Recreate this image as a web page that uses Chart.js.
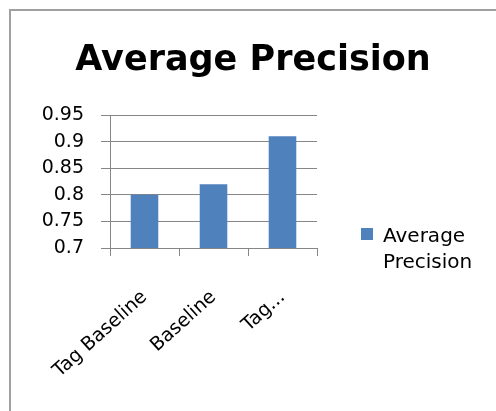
<!DOCTYPE html>
<html>
<head>
<meta charset="utf-8"/>
<title>Average Precision</title>
<script src="https://cdn.jsdelivr.net/npm/chart.js@4.4.0/dist/chart.umd.min.js"></script>
<style>
    body { margin: 0; background: #fff; overflow: hidden; }
    #frame { position: absolute; left: 9px; top: 9px; width: 520px; height: 440px; border: 2px solid #a0a0a0; }
    #wrap { position: absolute; left: 0; top: 0; width: 496px; height: 411px; }
</style>
</head>
<body>
<div id="frame"></div>
<div id="wrap"><canvas id="chart"></canvas></div>

<script>
var categories = ['Tag Baseline', 'Baseline', 'Tag...'];
var seriesName = 'Average Precision';
var values = [0.80, 0.82, 0.91];
var yTicks = [0.7, 0.75, 0.8, 0.85, 0.9, 0.95];

var barColor = '#4f81bd';
var lineColor = '#868686';

// legend on the right, two lines like the original
var sideLegend = {
    id: 'sideLegend',
    afterDraw: function(chart) {
        var ctx = chart.ctx;
        var ds = chart.data.datasets[0];
        var words = ds.label.split(' ');
        ctx.save();
        ctx.fillStyle = ds.backgroundColor;
        ctx.fillRect(361, 228, 12, 12);
        ctx.fillStyle = '#000';
        ctx.font = '20px "DejaVu Sans"';
        ctx.textBaseline = 'alphabetic';
        ctx.fillText(words[0], 383, 242);
        ctx.fillText(words[1], 383, 268);
        ctx.restore();
    }
};

var ctx = document.getElementById('chart');
var myChart = new Chart(ctx, {
    type: 'bar',
    data: {
        labels: categories,
        datasets: [{
            label: seriesName,
            data: values,
            backgroundColor: barColor,
            borderWidth: 0,
            categoryPercentage: 1,
            barPercentage: 0.4
        }]
    },
    options: {
        responsive: true,
        maintainAspectRatio: false,
        animation: false,
        layout: {
            padding: { left: 10, right: 0, top: 10, bottom: 0 }
        },
        scales: {
            x: {
                grid: { color: lineColor, drawOnChartArea: false, drawTicks: true, tickLength: 8, offset: true },
                border: { color: lineColor },
                ticks: {
                    color: '#000',
                    font: { family: 'DejaVu Sans', size: 19 },
                    minRotation: 42,
                    maxRotation: 42,
                    padding: 30,
                    autoSkip: false
                },
                afterFit: function(s) { s.height = 163; }
            },
            y: {
                min: 0.7,
                max: 0.95,
                grid: { color: lineColor, tickLength: 9 },
                border: { color: lineColor },
                afterBuildTicks: function(s) {
                    s.ticks = yTicks.map(function(v) { return { value: v }; });
                },
                ticks: {
                    color: '#000',
                    font: { family: 'DejaVu Sans', size: 19 },
                    padding: 17,
                    callback: function(v) { return String(+v.toFixed(2)); }
                },
                afterFit: function(s) { s.width = 100; }
            },
            // empty axis that only keeps room for the legend on the right
            legendSpace: {
                axis: 'y',
                position: 'right',
                grid: { display: false },
                border: { display: false },
                ticks: { display: false },
                afterFit: function(s) { s.width = 179; }
            }
        },
        plugins: {
            legend: { display: false },
            tooltip: { enabled: false },
            title: {
                display: true,
                text: seriesName,
                color: '#000',
                font: { family: 'DejaVu Sans', weight: 'bold', size: 35 },
                padding: { top: 30, bottom: 33 }
            }
        }
    },
    plugins: [sideLegend]
});
</script>
</body>
</html>
